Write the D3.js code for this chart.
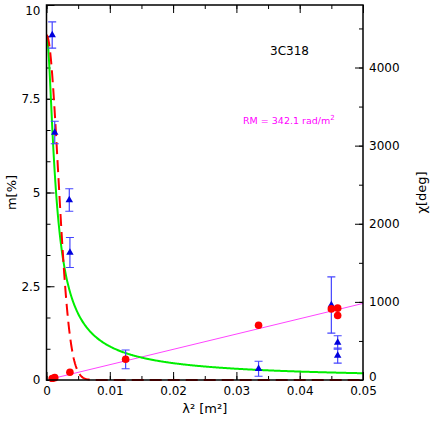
<!DOCTYPE html>
<html><head><meta charset="utf-8">
<script src="https://cdn.jsdelivr.net/npm/d3@7"></script>
<style>body{margin:0;background:#fff}text{font-family:"DejaVu Sans",sans-serif}</style>
</head><body><div id="chart"></div>
<script>
// polarization degree (triangles), left axis
const mLam2 = [0.0009, 0.0013, 0.0036, 0.0037, 0.0125, 0.0335, 0.0450, 0.0460, 0.0460];
const mVal  = [9.2, 6.6, 4.8, 3.4, 0.55, 0.3, 2.0, 1.0, 0.65];
const mErr  = [0.35, 0.3, 0.3, 0.4, 0.25, 0.2, 0.75, 0.18, 0.2];
// polarization angle (dots), right axis
const chiLam2 = [0.0009, 0.0013, 0.0037, 0.0125, 0.0335, 0.0450, 0.0460, 0.0460];
const chiVal  = [20, 30, 100, 265, 700, 910, 920, 825];
const RM = 342.1, chi0 = 0, m0 = 9.2;

const W = 436, H = 421;
const L = 46.5, R = 363, T = 5, B = 380;
const svg = d3.select('#chart').append('svg').attr('width', W).attr('height', H);

const x = d3.scaleLinear().domain([0, 0.05]).range([L, R]);
const y = d3.scaleLinear().domain([0, 10]).range([B, T]);
const y2 = d3.scaleLinear().domain([0, 4800]).range([B, T]);

function ticks(axisGen, tr, size) {
  const g = svg.append('g').attr('transform', tr).call(axisGen.tickSize(size).tickPadding(6));
  g.select('.domain').remove();
  g.selectAll('text').attr('font-size', 12);
  return g;
}
const fmtX = d => d === 0 ? '0' : d3.format('.2f')(d);
const fmtY = d => d === 0 ? '0' : d3.format('~g')(d);
// major + minor ticks, drawn inward
ticks(d3.axisBottom(x).tickValues(d3.range(0, 0.0501, 0.01)).tickFormat(fmtX), `translate(0,${B})`, -8);
ticks(d3.axisBottom(x).tickValues(d3.range(0, 0.0501, 0.005)).tickFormat(''), `translate(0,${B})`, -4);
ticks(d3.axisTop(x).tickValues(d3.range(0, 0.0501, 0.01)).tickFormat(''), `translate(0,${T})`, -8);
ticks(d3.axisTop(x).tickValues(d3.range(0, 0.0501, 0.005)).tickFormat(''), `translate(0,${T})`, -4);
const gl = ticks(d3.axisLeft(y).tickValues([0, 2.5, 5, 7.5, 10]).tickFormat(fmtY), `translate(${L},0)`, -8);
gl.selectAll('text').filter(d => d === 10).attr('dy', '0.75em');
ticks(d3.axisLeft(y).tickValues(d3.range(0, 10.01, 2.5 / 3)).tickFormat(''), `translate(${L},0)`, -4);
const gr = ticks(d3.axisRight(y2).tickValues([0, 1000, 2000, 3000, 4000]).tickFormat(d3.format('d')), `translate(${R},0)`, -8);
gr.selectAll('text').filter(d => d === 0).attr('dy', '0.05em');
ticks(d3.axisRight(y2).tickValues(d3.range(0, 4800, 500)).tickFormat(''), `translate(${R},0)`, -4);

const plot = svg.append('g');
svg.append('clipPath').attr('id', 'c').append('rect')
  .attr('x', L).attr('y', T).attr('width', R - L).attr('height', B - T + 2);
plot.attr('clip-path', 'url(#c)');

const xs = d3.range(0, 0.05001, 0.0001);
// Faraday rotation fit
plot.append('path').datum([0.001, 0.05])
  .attr('d', d3.line().x(d => x(d)).y(d => y2(chi0 + RM * d * 180 / Math.PI)))
  .attr('stroke', '#ff44ff').attr('stroke-width', 1).attr('fill', 'none');
// depolarization models
plot.append('path').datum(xs)
  .attr('d', d3.line().x(d => x(d)).y(d => y(m0 / Math.sqrt(1 + Math.pow(1022 * d, 2)))))
  .attr('stroke', '#00ee00').attr('stroke-width', 2).attr('fill', 'none');
plot.append('path').datum(xs)
  .attr('d', d3.line().x(d => x(d)).y(d => y(m0 * Math.exp(-1.5e5 * d * d))))
  .attr('stroke', '#ff0000').attr('stroke-width', 2).attr('stroke-dasharray', '12,6').attr('fill', 'none');

// error bars
const eb = plot.append('g').attr('stroke', '#4444ff').attr('stroke-width', 1.2);
mVal.forEach((v, i) => {
  const cx = x(mLam2[i]), a = y(v - mErr[i]), b = y(v + mErr[i]);
  eb.append('line').attr('x1', cx).attr('x2', cx).attr('y1', a).attr('y2', b);
  eb.append('line').attr('x1', cx - 4).attr('x2', cx + 4).attr('y1', a).attr('y2', a);
  eb.append('line').attr('x1', cx - 4).attr('x2', cx + 4).attr('y1', b).attr('y2', b);
});
plot.selectAll('.tri').data(mVal).enter().append('path')
  .attr('d', d3.symbol(d3.symbolTriangle, 24))
  .attr('transform', (d, i) => `translate(${x(mLam2[i])},${y(d)})`)
  .attr('fill', '#0000dd');
plot.selectAll('.dot').data(chiVal).enter().append('circle')
  .attr('cx', (d, i) => x(chiLam2[i])).attr('cy', d => y2(d)).attr('r', 3.8)
  .attr('fill', '#ff0000');

svg.append('rect').attr('x', L).attr('y', T).attr('width', R - L).attr('height', B - T)
  .attr('fill', 'none').attr('stroke', '#000').attr('stroke-width', 1.5);

svg.append('text').attr('x', 270).attr('y', 55).attr('font-size', 12).text('3C318');
svg.append('text').attr('x', 243).attr('y', 124).attr('font-size', 9.5).attr('fill', '#ff00ff')
  .html('RM = 342.1 rad/m<tspan dy="-4" font-size="7">2</tspan>');
svg.append('text').attr('transform', `translate(16,${(T + B) / 2}) rotate(-90)`)
  .attr('text-anchor', 'middle').attr('font-size', 13).text('m[%]');
svg.append('text').attr('transform', `translate(426,${(T + B) / 2}) rotate(-90)`)
  .attr('text-anchor', 'middle').attr('font-size', 13).text('χ[deg]');
svg.append('text').attr('x', (L + R) / 2).attr('y', 413).attr('text-anchor', 'middle')
  .attr('font-size', 13).text('λ² [m²]');
</script></body></html>
